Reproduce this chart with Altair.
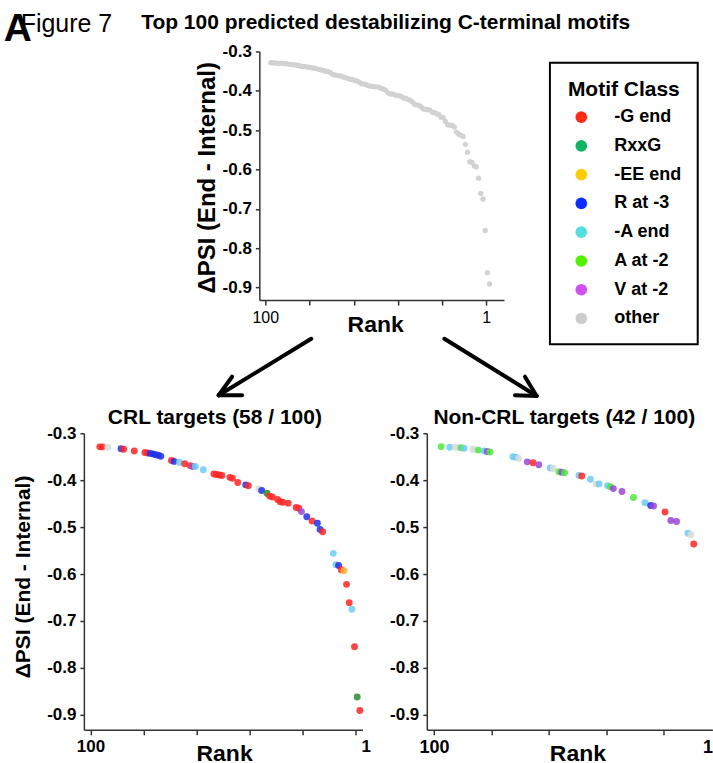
import altair as alt
import pandas as pd

# ---------------- data ----------------
classes = ["-G end", "RxxG", "-EE end", "R at -3", "-A end", "A at -2", "V at -2", "other"]
legend_colors = ["#ff2a12", "#0fb45f", "#ffcc00", "#0a2cff", "#55dede", "#55f000", "#d050f0", "#cccccc"]
point_colors = ["#ff2626", "#2a8a2a", "#f8b133", "#2030e8", "#6ccdf2", "#4be93a", "#9a45d6", "#d9d9d9"]

crl_rank = [99, 98, 96, 91, 90, 86, 82, 81, 80, 79, 78, 77, 76, 72, 71, 69, 67, 65, 64, 63,
            60, 56, 55, 54, 53, 50, 49, 47, 44, 43, 39, 38, 36, 35, 34, 32, 31, 30, 28, 25,
            24, 23, 21, 19, 17, 16, 15, 11, 10, 9, 8, 7, 6, 5, 4, 3, 2, 1]
crl_value = [-0.329, -0.329, -0.330, -0.333, -0.334, -0.338, -0.341, -0.342, -0.343, -0.344,
             -0.346, -0.347, -0.349, -0.358, -0.360, -0.362, -0.365, -0.369, -0.371, -0.371,
             -0.378, -0.387, -0.388, -0.389, -0.390, -0.394, -0.396, -0.405, -0.410, -0.412,
             -0.419, -0.422, -0.428, -0.434, -0.436, -0.441, -0.446, -0.447, -0.449, -0.458,
             -0.460, -0.467, -0.478, -0.487, -0.492, -0.505, -0.510, -0.556, -0.580, -0.582,
             -0.591, -0.593, -0.622, -0.661, -0.675, -0.755, -0.862, -0.891]
crl_class = ["-G end", "-G end", "other", "R at -3", "-G end", "-G end", "-G end", "-G end",
             "R at -3", "R at -3", "R at -3", "R at -3", "R at -3", "-G end", "R at -3", "-A end",
             "-G end", "-G end", "V at -2", "-A end", "-A end", "-G end", "-G end", "-G end",
             "-G end", "-G end", "-G end", "-G end", "R at -3", "-G end", "other", "R at -3",
             "RxxG", "-G end", "-G end", "-G end", "-G end", "-G end", "-G end", "-G end",
             "-G end", "V at -2", "R at -3", "-G end", "R at -3", "R at -3", "-G end", "-A end",
             "-A end", "R at -3", "-G end", "-EE end", "-G end", "-G end", "-A end", "-G end",
             "RxxG", "-G end"]

non_rank = [100, 97, 95, 94, 93, 92, 89, 88, 87, 85, 84, 83, 75, 74, 73, 70, 68, 66, 62, 61,
            59, 58, 57, 52, 51, 48, 46, 45, 42, 41, 40, 37, 33, 29, 27, 26, 22, 20, 18, 14, 13, 12]
non_value = [-0.3285, -0.330, -0.330, -0.331, -0.331, -0.332, -0.334, -0.335, -0.336, -0.338,
             -0.339, -0.340, -0.350, -0.351, -0.354, -0.361, -0.363, -0.367, -0.374, -0.375,
             -0.382, -0.383, -0.384, -0.390, -0.391, -0.398, -0.408, -0.408, -0.412, -0.414,
             -0.418, -0.424, -0.437, -0.448, -0.454, -0.455, -0.468, -0.486, -0.488, -0.513,
             -0.516, -0.536]
non_class = ["A at -2", "-A end", "other", "other", "A at -2", "-A end", "other", "other",
             "A at -2", "-A end", "V at -2", "A at -2", "-A end", "-A end", "other", "V at -2",
             "-G end", "V at -2", "-A end", "other", "A at -2", "V at -2", "A at -2", "-A end",
             "-G end", "-A end", "other", "-A end", "-A end", "A at -2", "V at -2", "V at -2",
             "A at -2", "-A end", "R at -3", "V at -2", "-G end", "V at -2", "V at -2", "-A end",
             "other", "-G end"]

main_title = "Top 100 predicted destabilizing C-terminal motifs"
crl_title = "CRL targets (58 / 100)"
non_title = "Non-CRL targets (42 / 100)"
y_title = "ΔPSI (End - Internal)"
x_title = "Rank"
legend_title = "Motif Class"
fig_label = "Figure 7"
panel_letter = "A"
y_ticks = [-0.3, -0.4, -0.5, -0.6, -0.7, -0.8, -0.9]
x_ticks = [102.5, 82.5, 62.5, 42.5, 22.5, 2.5]
x_ticks_br = [102.5, 82.5, 62.5, 42.5, 22.5, 7.2]

# ---------------- tables ----------------
crl_df = pd.DataFrame({"rank": crl_rank, "value": crl_value, "cls": crl_class})
non_df = pd.DataFrame({"rank": non_rank, "value": non_value, "cls": non_class})
all_df = pd.concat([crl_df, non_df], ignore_index=True).sort_values("rank", ascending=False)

F = "Liberation Sans"
AX = "#333333"

label_expr = "datum.value > 100 ? '100' : (datum.value < 8 ? '1' : '')"


def x_axis(values, lab_weight, lab_size, title_x, label_offset=0, hide_last_tick=False):
    kw = dict(values=values, labelExpr=label_expr, title=x_title, titleFont=F, titleFontSize=23,
              titleFontWeight="bold", titleX=title_x, titleY=13, titleBaseline="top",
              titleAlign="center", labelFont=F, labelFontWeight=lab_weight,
              labelFontSize=lab_size, labelFlush=False, labelOverlap=False, labelPadding=4,
              tickSize=5, grid=False)
    if label_offset:
        kw["labelOffset"] = {"condition": {"test": "datum.value < 8", "value": label_offset}, "value": 0}
    if hide_last_tick:
        kw["tickOpacity"] = {"condition": {"test": "datum.value < 8", "value": 0}, "value": 1}
    return alt.Axis(**kw)


def y_axis(title_size=None, title_x=None, title_y=None):
    kw = dict(values=y_ticks, labelExpr="'-' + format(abs(datum.value), '.1f')", labelFont=F,
              labelFontWeight="bold", labelFontSize=17, labelPadding=4, tickSize=4, grid=False,
              labelFlush=False, labelOverlap=False)
    if title_size:
        kw.update(title=y_title, titleFont=F, titleFontWeight="bold", titleFontSize=title_size,
                  titleX=title_x, titleY=title_y, titleBaseline="bottom", titleAlign="center",
                  titleAngle=270)
    else:
        kw["title"] = None
    return alt.Axis(**kw)


yscale = alt.Scale(domain=[-0.932, -0.3], nice=False, zero=False)

# ---------------- top panel ----------------
top_base = alt.Chart(all_df).encode(
    x=alt.X("rank:Q", scale=alt.Scale(domain=[-5.5, 105.2], reverse=True, nice=False, zero=False),
            axis=x_axis(x_ticks, "normal", 16, 116)),
    y=alt.Y("value:Q", scale=yscale, axis=y_axis(24, -40, 126)),
)
top_points = top_base.mark_circle(size=28, color="#d2d2d2", opacity=1)
top_legend = top_base.mark_circle(opacity=0).encode(
    color=alt.Color("cls:N", scale=alt.Scale(domain=classes, range=legend_colors),
                    legend=alt.Legend(title=legend_title, orient="none", legendX=291, legendY=11.2,
                                      padding=16, strokeColor="black", fillColor="white",
                                      titleFont=F, titleFontSize=21, titleFontWeight="bold",
                                      titleAnchor="middle", titleColor="black", titlePadding=8.6,
                                      labelFont=F, labelFontSize=18, labelFontWeight="bold",
                                      labelColor="black", labelOffset=24, rowPadding=10.8,
                                      symbolType="circle", symbolSize=137, symbolOpacity=1,
                                      symbolStrokeWidth=0, symbolOffset=6.4))
)
top = alt.layer(top_points, top_legend).properties(
    width=245, height=249,
    title=alt.TitleParams(main_title, anchor="middle", frame="group", font=F, fontSize=21,
                          fontWeight="bold", color="black", baseline="alphabetic", offset=-8, dx=4),
)

# ---------------- spacer with figure label and arrows ----------------
arrow_df = pd.DataFrame({
    "x": [227.7, 135.0, 135.0, 361.0, 453.4, 453.4],
    "y": [287.7, 344.3, 344.3, 287.7, 345.0, 345.0],
    "x2": [135.0, 148.4, 158.4, 453.4, 441.7, 431.7],
    "y2": [344.3, 325.7, 344.3, 345.0, 325.7, 344.3],
})
arrows = alt.Chart(arrow_df).mark_rule(color="black", strokeWidth=4, strokeCap="round").encode(
    x=alt.X("x:Q", scale=None, axis=None), y=alt.Y("y:Q", scale=None, axis=None),
    x2="x2:Q", y2="y2:Q")
fig_text = alt.Chart(pd.DataFrame({"t": [fig_label]})).mark_text(
    x=-63.3, y=-19, align="left", baseline="alphabetic", font=F, fontSize=25, color="black"
).encode(text="t:N")
letter_text = alt.Chart(pd.DataFrame({"t": [panel_letter]})).mark_text(
    x=-80.3, y=-10, align="left", baseline="alphabetic", font=F, fontSize=39, fontWeight="bold",
    color="black"
).encode(text="t:N")
spacer = alt.layer(arrows, fig_text, letter_text).properties(width=100, height=10)

# ---------------- bottom panels ----------------
bl = alt.Chart(crl_df).mark_circle(size=48, opacity=0.85).encode(
    x=alt.X("rank:Q", scale=alt.Scale(domain=[0, 105], reverse=True, nice=False, zero=False),
            axis=x_axis(x_ticks, "bold", 17, 140.4, label_offset=10)),
    y=alt.Y("value:Q", scale=yscale, axis=y_axis(21, -50, 143.4)),
    color=alt.Color("cls:N", scale=alt.Scale(domain=classes, range=point_colors), legend=None),
).properties(width=279, height=297,
             title=alt.TitleParams(crl_title, anchor="start", frame="group", font=F, fontSize=21,
                                   fontWeight="bold", color="black", baseline="alphabetic",
                                   offset=-20.4, dx=24))

br = alt.Chart(non_df).mark_circle(size=48, opacity=0.85).encode(
    x=alt.X("rank:Q", scale=alt.Scale(domain=[5.5, 105], reverse=True, nice=False, zero=False),
            axis=x_axis(x_ticks_br, "bold", 18, 150.8, hide_last_tick=True)),
    y=alt.Y("value:Q", scale=yscale, axis=y_axis()),
    color=alt.Color("cls:N", scale=alt.Scale(domain=classes, range=point_colors), legend=None),
).properties(width=286, height=297,
             title=alt.TitleParams(non_title, anchor="start", frame="group", font=F, fontSize=21,
                                   fontWeight="bold", color="black", baseline="alphabetic",
                                   offset=-20.4, dx=6.6))

top_row = alt.hconcat(spacer, top, spacing=75.7, bounds="flush").resolve_scale(color="independent")
bottom_row = alt.hconcat(bl, br, spacing=64.4, bounds="flush").resolve_scale(color="independent")

chart = alt.vconcat(top_row, bottom_row, spacing=382.3, bounds="flush").resolve_scale(
    color="independent"
).properties(
    padding={"left": 3, "top": 10, "right": 0, "bottom": 0},
    background="white",
).configure_view(stroke=None).configure_axis(
    domainColor=AX, domainWidth=1.5, tickColor=AX, tickWidth=1.5,
    labelColor="black", titleColor="black",
).configure_legend(strokeWidth=2)

chart.save("out.html", embed_options={"renderer": "svg", "actions": False})
